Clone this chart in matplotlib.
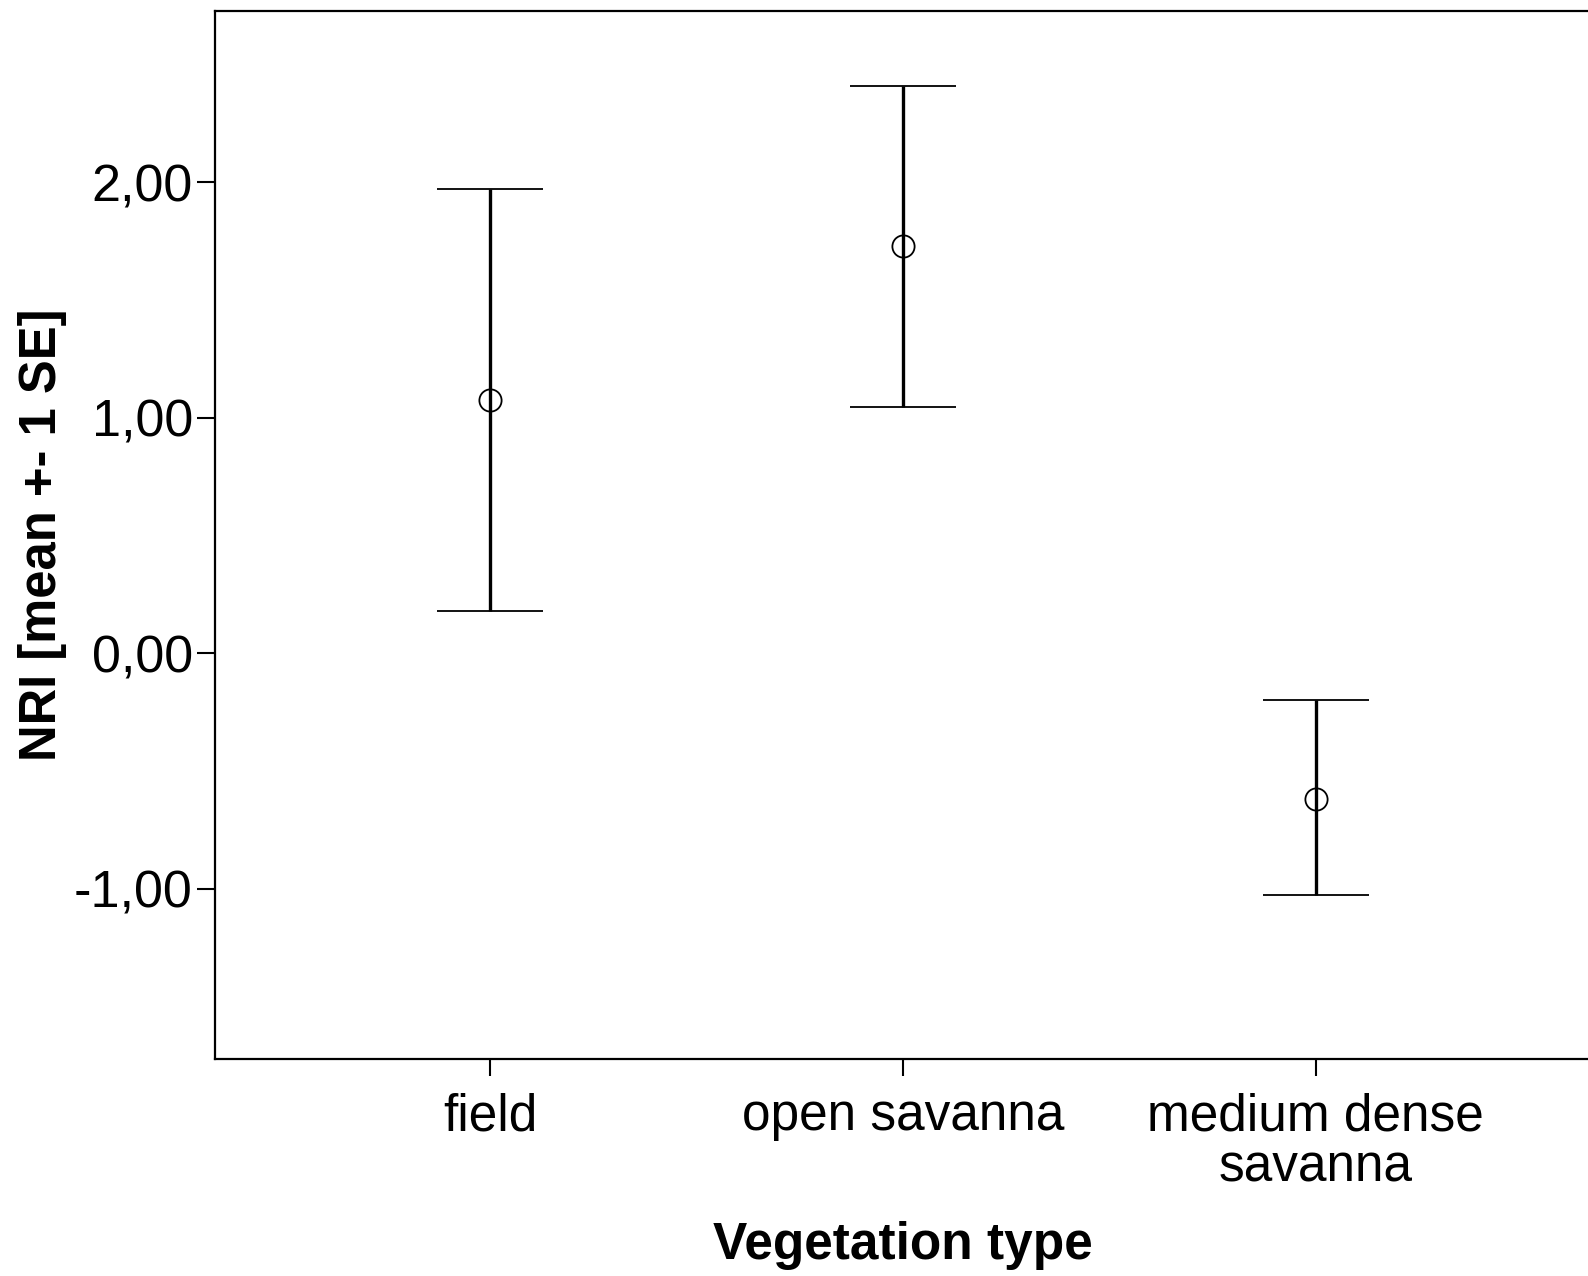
import numpy as np
from matplotlib import pyplot as plt

plt.rcParams['font.family'] = ['Liberation Sans', 'DejaVu Sans']

# values
groups = ['field', 'open savanna', 'medium dense\nsavanna']
means = [1.075, 1.73, -0.62]
upper = [1.97, 2.41, -0.198]
lower = [0.18, 1.045, -1.028]
yticks = [-1.0, 0.0, 1.0, 2.0]

x = np.arange(1, len(groups) + 1)
means = np.array(means)
err = [means - np.array(lower), np.array(upper) - means]

fig = plt.figure(figsize=(15.88, 12.76), dpi=100)
ax = fig.add_axes([0.1354, 0.1701, 0.8646 + 0.002, 0.8209])

ax.errorbar(x, means, yerr=err, fmt='o', color='black', mfc='none', mec='black',
            ms=16, mew=1.3, elinewidth=2.4, capsize=38, capthick=3.0)

ax.set_xlim(0.333, 3.667)
ax.set_ylim(-1.723, 2.725)
ax.set_xticks(x)
ax.set_xticklabels(groups, fontsize=37, linespacing=1.05)
ax.set_yticks(yticks)
ax.set_yticklabels(['{:.2f}'.format(v).replace('.', ',') for v in yticks], fontsize=37.5)
ax.tick_params(axis='x', length=12, width=1.5, pad=12)
ax.tick_params(axis='y', length=13, width=1.5, pad=3)

for s in ['left', 'top', 'bottom']:
    ax.spines[s].set_linewidth(1.6)
ax.spines['right'].set_visible(False)

ax.set_xlabel('Vegetation type', fontsize=37, fontweight='bold', labelpad=21)
ax.set_ylabel('NRI [mean +- 1 SE]', fontsize=36.5, fontweight='bold', labelpad=5)

fig.savefig('out.png', dpi=100)
